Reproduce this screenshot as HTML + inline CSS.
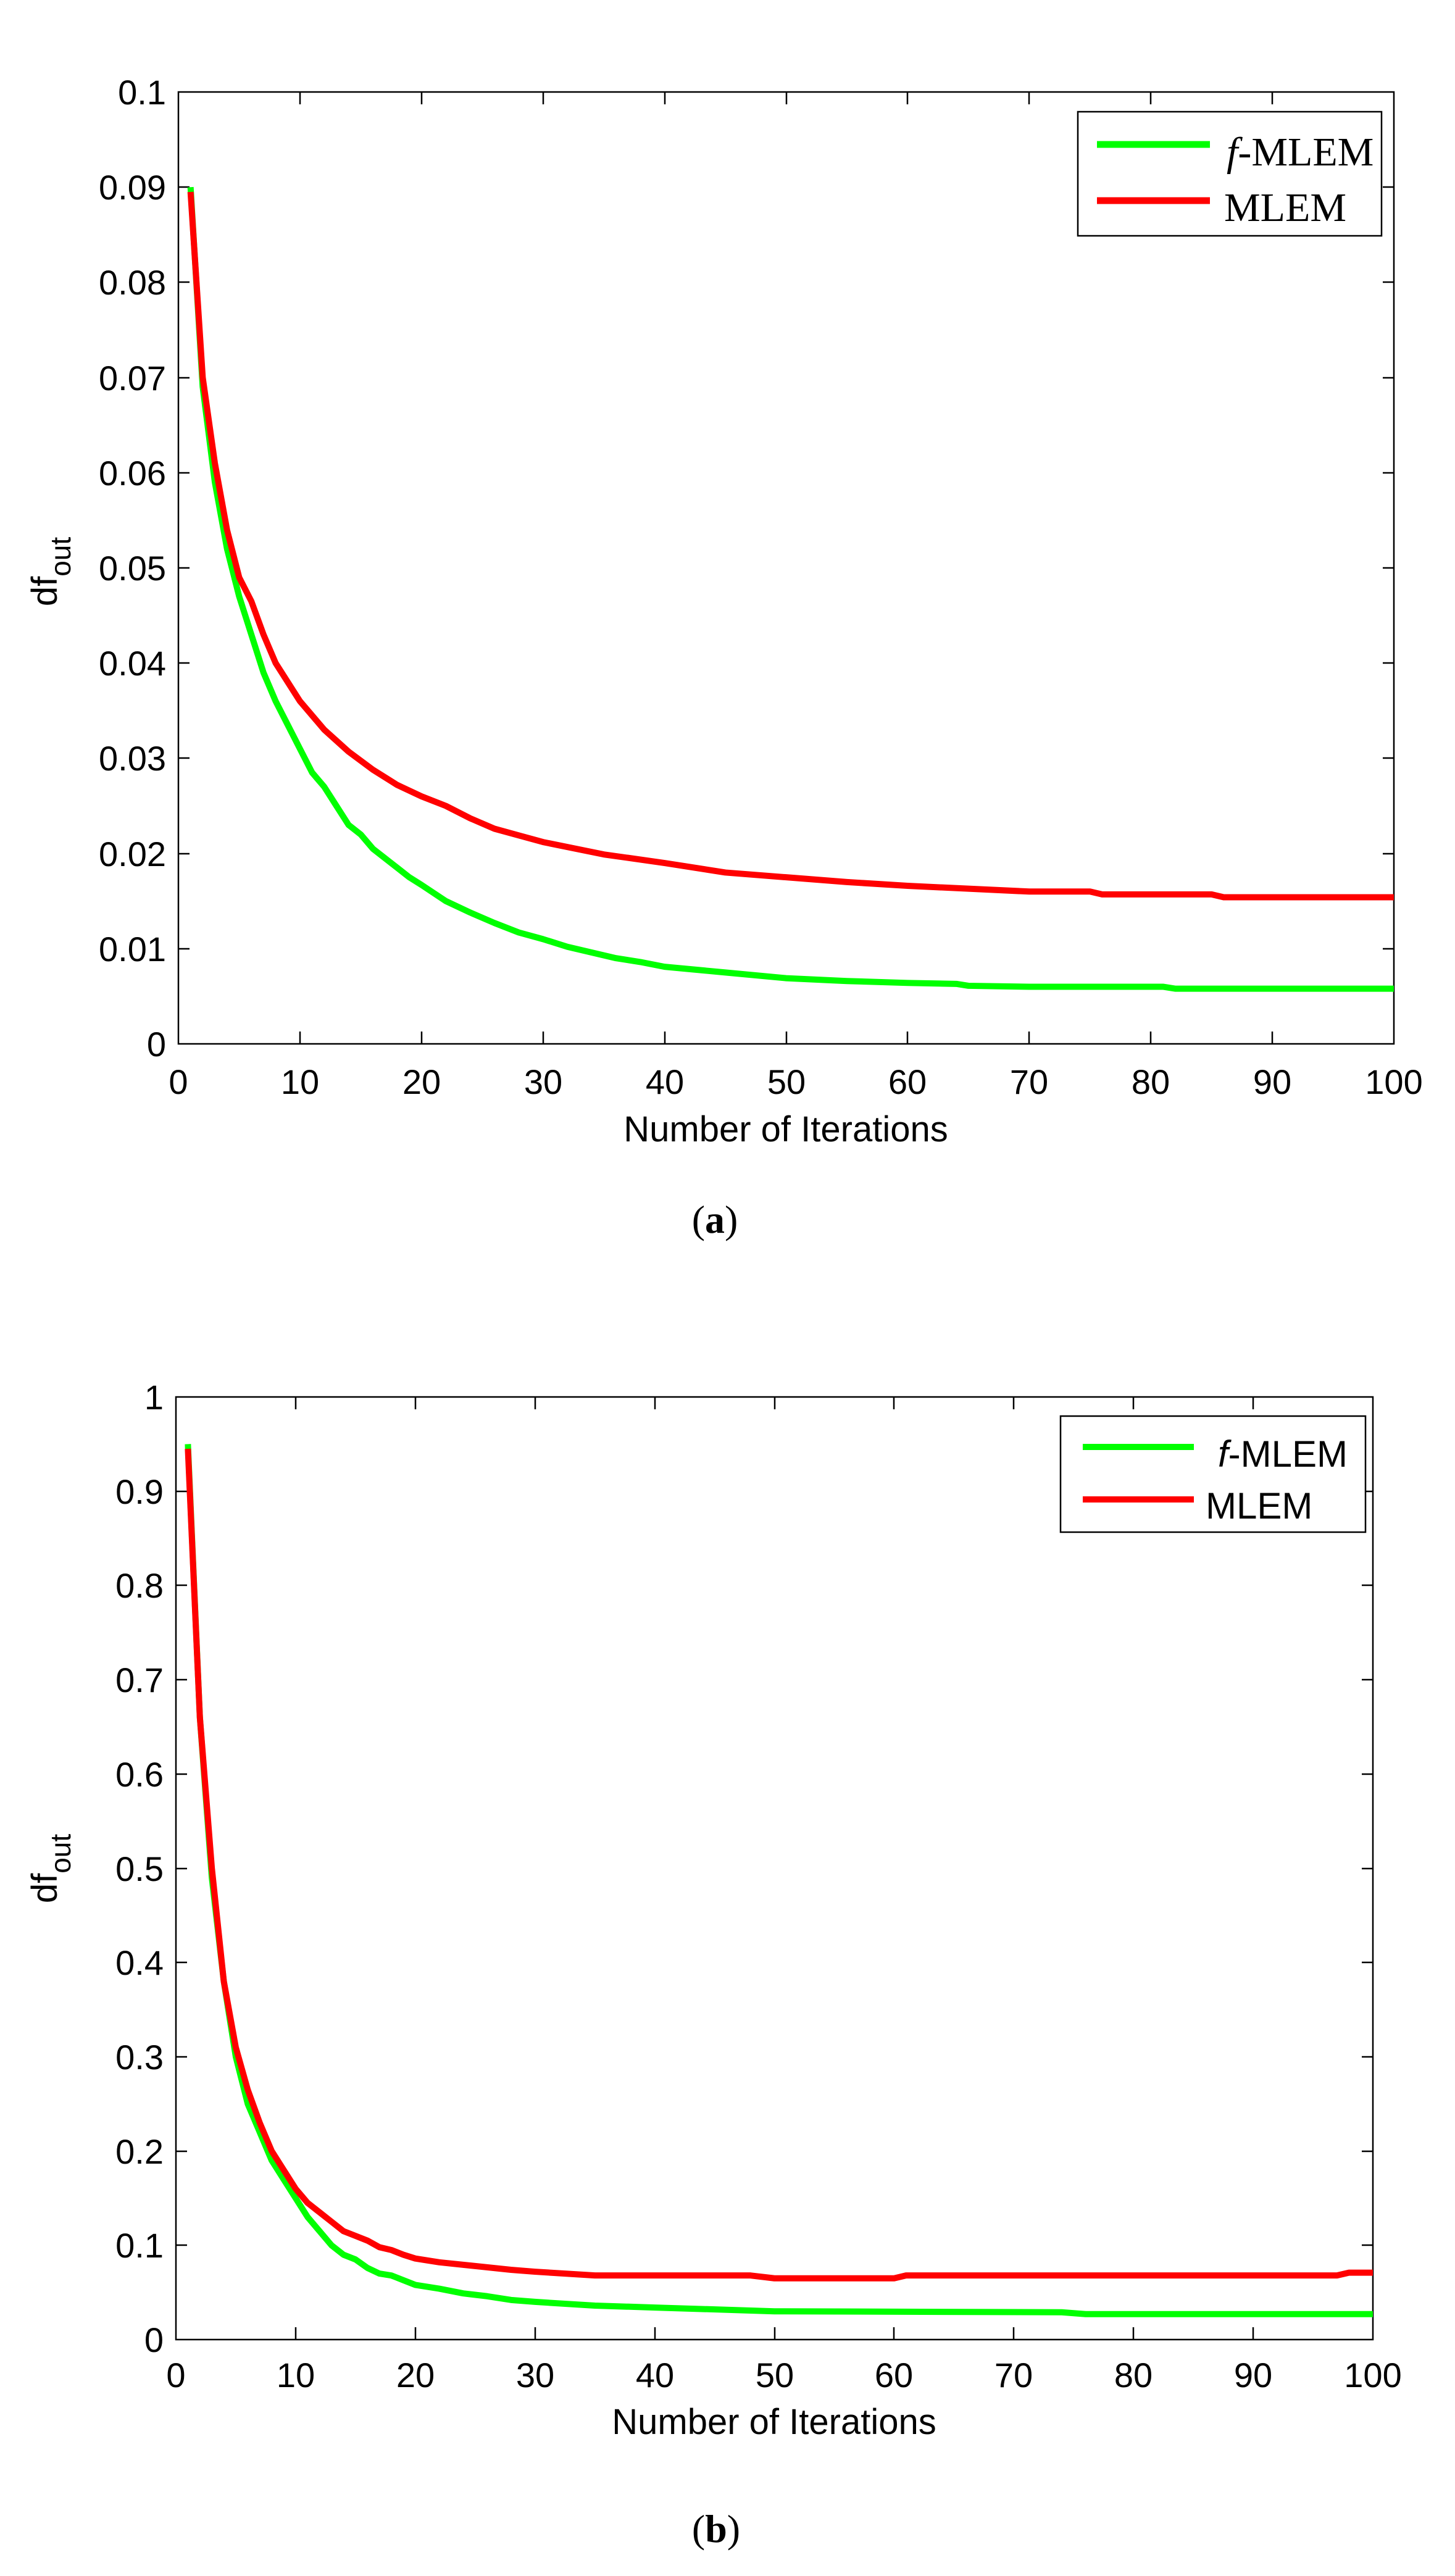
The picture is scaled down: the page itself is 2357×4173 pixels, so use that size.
<!DOCTYPE html>
<html><head><meta charset="utf-8"><style>
html,body{margin:0;padding:0;background:#fff;}
svg{display:block;}
text{font-family:"Liberation Sans",Arial,sans-serif;fill:#000;}
.t{font-size:56px;}
.ser{font-family:"Liberation Serif","Times New Roman",serif;}
</style></head><body>
<svg width="2357" height="4173" viewBox="0 0 2357 4173" xmlns="http://www.w3.org/2000/svg">
<rect width="2357" height="4173" fill="#fff"/>

<!-- ===== Chart (a) ===== -->
<g stroke="#000" stroke-width="2.5" fill="none">
<rect x="289" y="149" width="1969" height="1542"/>
<path d="M486 1691v-20M683 1691v-20M880 1691v-20M1077 1691v-20M1274 1691v-20M1470 1691v-20M1667 1691v-20M1864 1691v-20M2061 1691v-20
M486 149v20M683 149v20M880 149v20M1077 149v20M1274 149v20M1470 149v20M1667 149v20M1864 149v20M2061 149v20
M289 1537h18M289 1383h18M289 1228h18M289 1074h18M289 920h18M289 766h18M289 612h18M289 457h18M289 303h18
M2258 1537h-18M2258 1383h-18M2258 1228h-18M2258 1074h-18M2258 920h-18M2258 766h-18M2258 612h-18M2258 457h-18M2258 303h-18"/>
</g>
<g class="t" text-anchor="end">
<text x="269" y="1711">0</text><text x="269" y="1557">0.01</text><text x="269" y="1403">0.02</text>
<text x="269" y="1248">0.03</text><text x="269" y="1094">0.04</text><text x="269" y="940">0.05</text>
<text x="269" y="786">0.06</text><text x="269" y="632">0.07</text><text x="269" y="477">0.08</text>
<text x="269" y="323">0.09</text><text x="269" y="169">0.1</text>
</g>
<g class="t" text-anchor="middle">
<text x="289" y="1772">0</text><text x="486" y="1772">10</text><text x="683" y="1772">20</text>
<text x="880" y="1772">30</text><text x="1077" y="1772">40</text><text x="1274" y="1772">50</text>
<text x="1470" y="1772">60</text><text x="1667" y="1772">70</text><text x="1864" y="1772">80</text>
<text x="2061" y="1772">90</text><text x="2258" y="1772">100</text>
</g>
<text x="1273" y="1849" text-anchor="middle" font-size="58">Number of Iterations</text>
<text transform="translate(92,926) rotate(-90)" text-anchor="middle" font-size="58">df<tspan font-size="46" dy="22">out</tspan></text>
<text x="1158" y="1997" text-anchor="middle" class="ser" font-size="64">(<tspan font-weight="bold">a</tspan>)</text>

<g transform="translate(289 1691) scale(19.69 -15420)" fill="none" stroke-linejoin="round">
<polyline vector-effect="non-scaling-stroke" stroke="#00ff00" stroke-width="10" points="1,0.090 2,0.069 3,0.059 4,0.052 5,0.047 6,0.043 7,0.039 8,0.036 9,0.0335 10,0.031 11,0.0285 12,0.027 13,0.025 14,0.023 15,0.022 16,0.0205 17,0.0195 18,0.0185 19,0.0175 20,0.0167 22,0.015 24,0.0138 26,0.0127 28,0.0117 30,0.011 32,0.0102 34,0.0096 36,0.009 38,0.0086 40,0.0081 45,0.0075 50,0.0069 55,0.0066 60,0.0064 64,0.0063 65,0.0061 70,0.006 81,0.006 82,0.0058 100,0.0058"/>
<polyline vector-effect="non-scaling-stroke" stroke="#ff0000" stroke-width="10" points="1,0.0895 2,0.070 3,0.061 4,0.054 5,0.049 6,0.0465 7,0.043 8,0.040 9,0.038 10,0.036 11,0.0345 12,0.033 14,0.0307 16,0.0288 18,0.0272 20,0.026 22,0.025 24,0.0237 26,0.0226 28,0.0219 30,0.0212 35,0.0199 40,0.019 45,0.018 50,0.0175 55,0.017 60,0.0166 65,0.0163 70,0.016 75,0.016 76,0.0157 85,0.0157 86,0.0154 100,0.0154"/>
</g>

<rect x="1746" y="181" width="492" height="201" fill="#fff" stroke="#000" stroke-width="2.5"/>
<line x1="1777" y1="234" x2="1960" y2="234" stroke="#00ff00" stroke-width="11"/>
<line x1="1777" y1="325" x2="1960" y2="325" stroke="#ff0000" stroke-width="11"/>
<text x="1987" y="268" class="ser" font-size="66"><tspan font-style="italic">f</tspan>-MLEM</text>
<text x="1983" y="358" class="ser" font-size="66">MLEM</text>

<!-- ===== Chart (b) ===== -->
<g stroke="#000" stroke-width="2.5" fill="none">
<rect x="285" y="2263" width="1939" height="1527"/>
<path d="M479 3790v-20M673 3790v-20M867 3790v-20M1061 3790v-20M1255 3790v-20M1448 3790v-20M1642 3790v-20M1836 3790v-20M2030 3790v-20
M479 2263v20M673 2263v20M867 2263v20M1061 2263v20M1255 2263v20M1448 2263v20M1642 2263v20M1836 2263v20M2030 2263v20
M285 3637h18M285 3485h18M285 3332h18M285 3179h18M285 3027h18M285 2874h18M285 2721h18M285 2568h18M285 2416h18
M2224 3637h-18M2224 3485h-18M2224 3332h-18M2224 3179h-18M2224 3027h-18M2224 2874h-18M2224 2721h-18M2224 2568h-18M2224 2416h-18"/>
</g>
<g class="t" text-anchor="end">
<text x="265" y="3810">0</text><text x="265" y="3657">0.1</text><text x="265" y="3505">0.2</text>
<text x="265" y="3352">0.3</text><text x="265" y="3199">0.4</text><text x="265" y="3047">0.5</text>
<text x="265" y="2894">0.6</text><text x="265" y="2741">0.7</text><text x="265" y="2588">0.8</text>
<text x="265" y="2436">0.9</text><text x="265" y="2283">1</text>
</g>
<g class="t" text-anchor="middle">
<text x="285" y="3867">0</text><text x="479" y="3867">10</text><text x="673" y="3867">20</text>
<text x="867" y="3867">30</text><text x="1061" y="3867">40</text><text x="1255" y="3867">50</text>
<text x="1448" y="3867">60</text><text x="1642" y="3867">70</text><text x="1836" y="3867">80</text>
<text x="2030" y="3867">90</text><text x="2224" y="3867">100</text>
</g>
<text x="1254" y="3943" text-anchor="middle" font-size="58">Number of Iterations</text>
<text transform="translate(92,3027) rotate(-90)" text-anchor="middle" font-size="58">df<tspan font-size="46" dy="22">out</tspan></text>
<text x="1160" y="4118" text-anchor="middle" class="ser" font-size="64">(<tspan font-weight="bold">b</tspan>)</text>

<g transform="translate(285 3790) scale(19.39 -1527)" fill="none" stroke-linejoin="round">
<polyline vector-effect="non-scaling-stroke" stroke="#00ff00" stroke-width="10" points="1,0.95 2,0.66 3,0.49 4,0.38 5,0.30 6,0.25 7,0.22 8,0.19 9,0.17 10,0.15 11,0.13 12,0.115 13,0.10 14,0.09 15,0.085 16,0.076 17,0.07 18,0.068 19,0.063 20,0.058 22,0.054 24,0.049 26,0.046 28,0.042 30,0.040 35,0.036 40,0.034 50,0.030 74,0.029 76,0.027 100,0.027"/>
<polyline vector-effect="non-scaling-stroke" stroke="#ff0000" stroke-width="10" points="1,0.945 2,0.66 3,0.50 4,0.38 5,0.31 6,0.265 7,0.23 8,0.20 9,0.18 10,0.16 11,0.145 12,0.135 13,0.125 14,0.115 15,0.11 16,0.105 17,0.098 18,0.095 19,0.09 20,0.086 22,0.082 25,0.078 28,0.074 30,0.072 35,0.068 48,0.068 50,0.065 60,0.065 61,0.068 97,0.068 98,0.071 100,0.071"/>
</g>

<rect x="1718" y="2294" width="494" height="188" fill="#fff" stroke="#000" stroke-width="2.5"/>
<line x1="1754" y1="2344" x2="1934" y2="2344" stroke="#00ff00" stroke-width="10"/>
<line x1="1754" y1="2429" x2="1934" y2="2429" stroke="#ff0000" stroke-width="10"/>
<text x="1973" y="2376" font-size="60"><tspan font-style="italic">f</tspan>-MLEM</text>
<text x="1953" y="2460" font-size="60">MLEM</text>
</svg>
</body></html>
